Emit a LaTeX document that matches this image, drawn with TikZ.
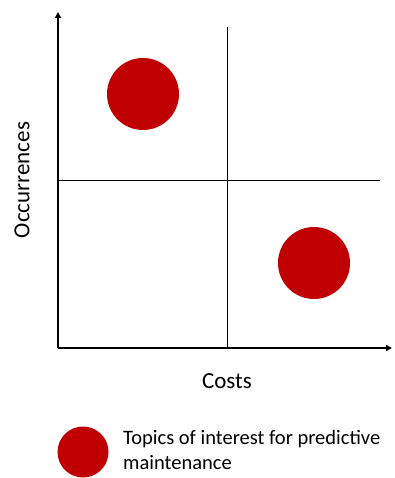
\documentclass[tikz,border=0pt]{standalone}
\usepackage{fontspec}
\setmainfont{Carlito}
\usetikzlibrary{arrows.meta}
\definecolor{topicred}{RGB}{192,0,0}

\begin{document}
\begin{tikzpicture}[
    x=1pt, y=-1pt,
    every node/.style={font=\fontsize{23}{27}\selectfont},
    axis/.style={-{Triangle[length=6pt,width=6pt]}, line width=1.6pt},
    divider/.style={draw=black, line width=0.7pt},
    topic/.style={circle, fill=topicred, inner sep=0pt, minimum size=72pt},
    legtopic/.style={circle, fill=topicred, inner sep=0pt, minimum size=51pt},
]
\useasboundingbox (0,0) rectangle (395,478);

% ====== AXES ======
\coordinate (origin) at (58,348);
\coordinate (y-end)  at (58,12);
\coordinate (x-end)  at (392,348);
\draw[axis] (origin) -- (y-end);
\draw[axis] (origin) -- (x-end);

% ====== QUADRANTS ======
\coordinate (v-top) at (227,27);
\coordinate (v-bot) at (227,348);
\coordinate (h-left)  at (58,180);
\coordinate (h-right) at (380,180);
\draw[divider] (v-top) -- (v-bot);
\draw[divider] (h-left) -- (h-right);

% ====== TOPICS ======
\node[topic] (topic-a) at (143,94)  {};
\node[topic] (topic-b) at (314,263) {};

% ====== LABELS ======
\node (costs) at (227,381) {Costs};
\node[rotate=90] (occ) at (22,180) {Occurrences};

% ====== LEGEND ======
\node[legtopic] (leg-dot) at (83,452) {};
\node[anchor=west, align=left, inner sep=0pt,
    font=\fontsize{20.5}{25}\selectfont] (leg-text) at (123,450)
    {Topics of interest for predictive\\maintenance};
\end{tikzpicture}
\end{document}
